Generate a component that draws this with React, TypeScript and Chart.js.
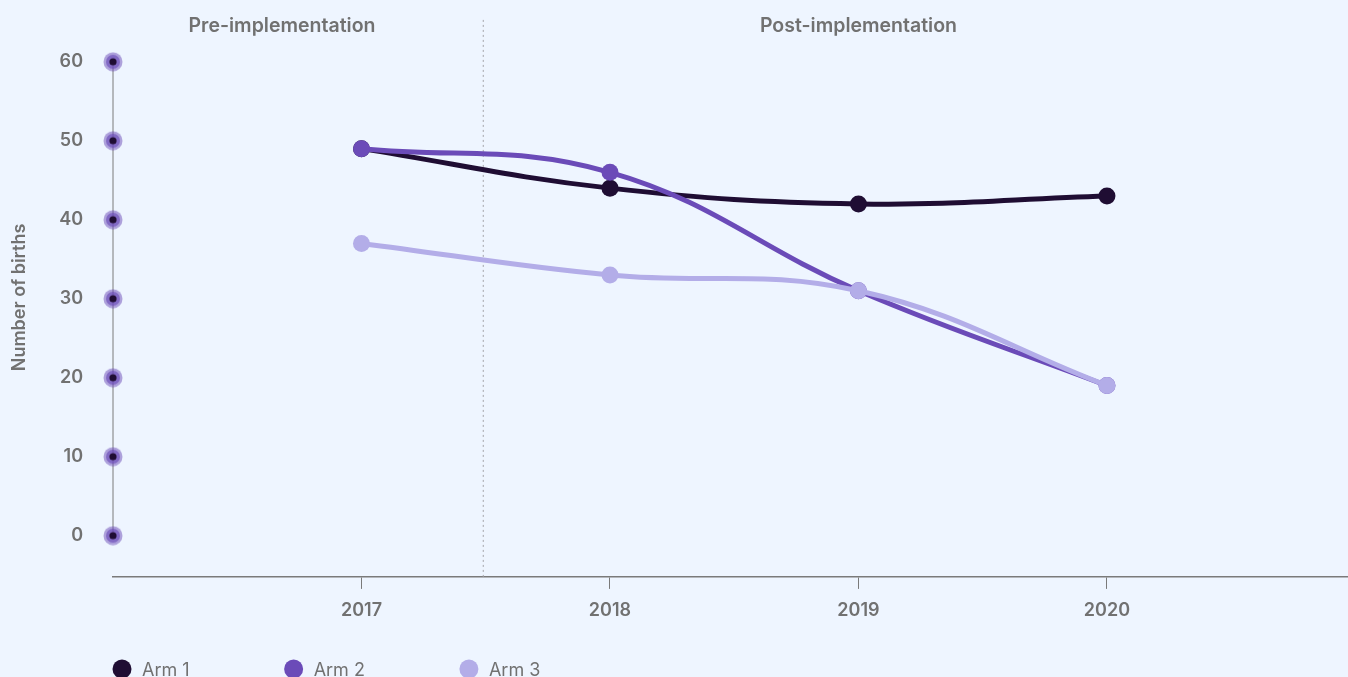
import React, { useEffect, useRef } from "react";
import { Chart, registerables } from "chart.js";

Chart.register(...registerables);

// ---- data ----
const YEARS = [2017, 2018, 2019, 2020];
const ARM_NAMES = ["Arm 1", "Arm 2", "Arm 3"];
const ARM1 = [49, 44, 42, 43];
const ARM2 = [49, 46, 31, 19];
const ARM3 = [37, 33, 31, 19];
const Y_TICKS = [0, 10, 20, 30, 40, 50, 60];
const X_TICKS = [2017, 2018, 2019, 2020];
const PHASE_LABELS = ["Pre-implementation", "Post-implementation"];
const PHASE_LABEL_X = [2016.68, 2019];
const PHASE_SPLIT = 2017.49;

// ---- styling ----
const X_MIN = 2016;
const X_MAX = 2020.97;
const Y_MIN = -5.22;
const Y_MAX = 65.54;
const ARM_COLORS = ["#1F0D33", "#6B4BB8", "#B3ADE8"];
const BG = "#EEF5FF";
const TEXT = "#717171";
const AXIS = "#7a7a7a";
const FONT = "Inter, 'Noto Sans', sans-serif";

function makeHalo(): HTMLCanvasElement {
  const c = document.createElement("canvas");
  c.width = 20;
  c.height = 20;
  const g = c.getContext("2d")!;
  const circ = (r: number, col: string) => {
    g.fillStyle = col;
    g.beginPath();
    g.arc(10, 10, r, 0, Math.PI * 2);
    g.fill();
  };
  circ(9.5, "rgba(107,75,184,0.5)");
  circ(7, "rgba(107,75,184,0.65)");
  circ(3.6, "#1F0D33");
  return c;
}

const phasePlugin = {
  id: "phaseLabels",
  afterDraw(chart: any) {
    const { ctx, chartArea } = chart;
    const xs = chart.scales.x;
    ctx.save();
    ctx.font = `600 19.5px ${FONT}`;
    ctx.fillStyle = TEXT;
    ctx.textAlign = "center";
    ctx.textBaseline = "middle";
    PHASE_LABELS.forEach((t, i) => {
      ctx.fillText(t, xs.getPixelForValue(PHASE_LABEL_X[i]), chartArea.top + 8);
    });
    ctx.restore();
  },
};

const legendPlugin = {
  id: "armLegend",
  afterDraw(chart: any) {
    const { ctx, chartArea } = chart;
    const baseY = chart.height - 1;
    let x = chartArea.left - 1;
    ctx.save();
    ctx.font = `400 18px ${FONT}`;
    ctx.textAlign = "left";
    ctx.textBaseline = "alphabetic";
    chart.data.datasets
      .filter((d: any) => ARM_NAMES.includes(d.label))
      .sort((a: any, b: any) => ARM_NAMES.indexOf(a.label) - ARM_NAMES.indexOf(b.label))
      .forEach((d: any) => {
        ctx.fillStyle = d.borderColor;
        ctx.beginPath();
        ctx.arc(x + 10, baseY - 7, 9.5, 0, Math.PI * 2);
        ctx.fill();
        ctx.fillStyle = TEXT;
        ctx.fillText(d.label, x + 30, baseY);
        x += 30 + ctx.measureText(d.label).width + 94;
      });
    ctx.restore();
  },
};

export default function App() {
  const ref = useRef<HTMLCanvasElement | null>(null);

  useEffect(() => {
    document.body.style.margin = "0";
    document.body.style.background = BG;
    let chart: Chart | null = null;
    let cancelled = false;

    const build = () => {
      if (cancelled || !ref.current) return;
      const armSeries = [ARM1, ARM2, ARM3];
      const armDatasets = ARM_NAMES.map((name, i) => ({
        label: name,
        data: YEARS.map((y, j) => ({ x: y, y: armSeries[i][j] })),
        borderColor: ARM_COLORS[i],
        backgroundColor: ARM_COLORS[i],
        pointBackgroundColor: ARM_COLORS[i],
        pointBorderColor: ARM_COLORS[i],
        borderWidth: 5,
        pointRadius: 8.5,
        pointBorderWidth: 0,
        tension: 0.4,
        borderCapStyle: "round" as const,
        order: 3 - i,
        clip: false as const,
      }));
      const spine = {
        label: "spine",
        data: Y_TICKS.map((v) => ({ x: X_MIN, y: v })),
        borderColor: AXIS,
        borderWidth: 1,
        pointStyle: makeHalo(),
        pointRadius: 10,
        tension: 0,
        order: 10,
        clip: false as const,
      };
      const split = {
        label: "split",
        data: [
          { x: PHASE_SPLIT, y: Y_MIN },
          { x: PHASE_SPLIT, y: Y_MAX },
        ],
        borderColor: "#a3a3a8",
        borderWidth: 1,
        borderDash: [2, 3],
        pointRadius: 0,
        tension: 0,
        order: 20,
      };

      chart = new Chart(ref.current, {
        type: "line",
        data: { datasets: [...armDatasets, spine, split] as any },
        options: {
          animation: false,
          responsive: false,
          events: [],
          layout: { autoPadding: false, padding: { top: 18, bottom: 45.5, left: 0, right: 0 } },
          plugins: {
            legend: { display: false },
            tooltip: { enabled: false },
          },
          scales: {
            x: {
              type: "linear",
              min: X_MIN,
              max: X_MAX,
              afterBuildTicks: (s: any) => {
                s.ticks = X_TICKS.map((v) => ({ value: v }));
              },
              ticks: {
                callback: (v: any) => String(v),
                font: { family: FONT, size: 18, weight: 600 },
                color: TEXT,
                padding: 10.5,
                maxRotation: 0,
                autoSkip: false,
              },
              grid: {
                display: true,
                drawOnChartArea: false,
                drawTicks: true,
                tickLength: 12,
                color: AXIS,
                lineWidth: 1,
              },
              border: { display: true, color: AXIS, width: 1.5 },
            },
            y: {
              type: "linear",
              position: "left",
              min: Y_MIN,
              max: Y_MAX,
              afterBuildTicks: (s: any) => {
                s.ticks = Y_TICKS.map((v) => ({ value: v }));
              },
              afterFit: (s: any) => {
                s.width = 113;
              },
              ticks: {
                font: { family: FONT, size: 18, weight: 600 },
                color: TEXT,
                padding: 0,
              },
              grid: { display: false, drawTicks: true, tickLength: 30 },
              border: { display: false },
              title: {
                display: true,
                text: "Number of births",
                font: { family: FONT, size: 18, weight: 600 },
                color: TEXT,
                padding: { top: 9, bottom: 0 },
              },
            },
          },
        },
        plugins: [phasePlugin, legendPlugin],
      });
    };

    const fontsReady = (document as any).fonts
      ? Promise.all([
          (document as any).fonts.load(`600 18px Inter`),
          (document as any).fonts.load(`400 18px Inter`),
        ]).catch(() => null)
      : Promise.resolve(null);
    fontsReady.then(build);

    return () => {
      cancelled = true;
      if (chart) chart.destroy();
    };
  }, []);

  return (
    <div style={{ width: 1348, height: 677, overflow: "hidden", background: BG }}>
      <canvas ref={ref} width={1348} height={677} style={{ display: "block" }} />
    </div>
  );
}
